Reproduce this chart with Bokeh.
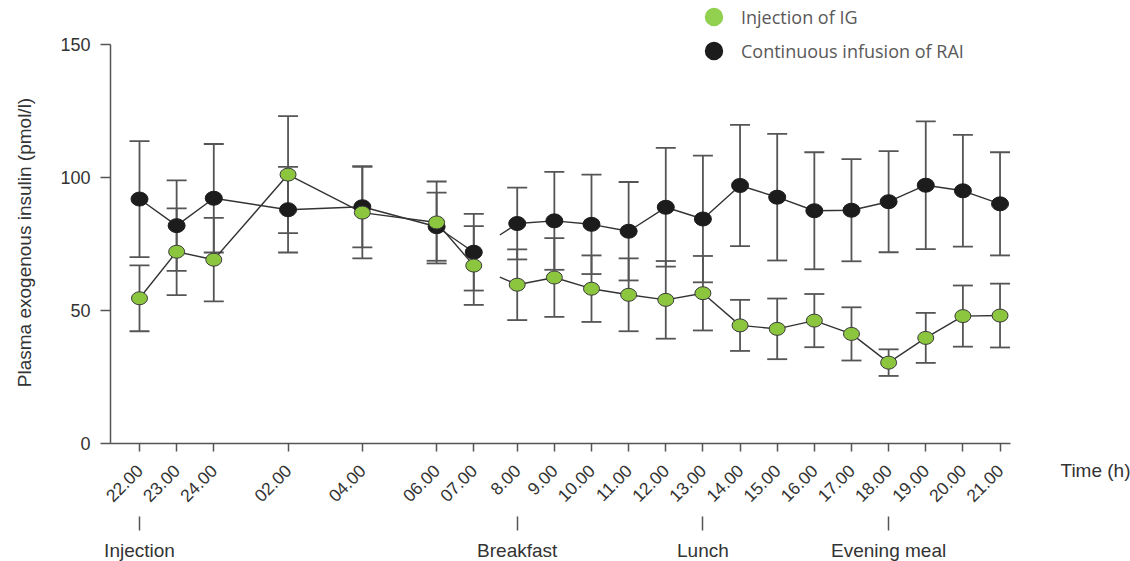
import math
import numpy as np
from bokeh.plotting import figure
from bokeh.models import (ColumnDataSource, Whisker, TeeHead, FixedTicker, LinearAxis,
                          Label, Legend, LegendItem, Range1d)
from bokeh.embed import file_html
from bokeh.resources import INLINE

# Sampling times (clock labels) and hours elapsed since the 22.00 injection
time_labels = ["22.00", "23.00", "24.00", "02.00", "04.00", "06.00", "07.00",
               "8.00", "9.00", "10.00", "11.00", "12.00", "13.00", "14.00", "15.00",
               "16.00", "17.00", "18.00", "19.00", "20.00", "21.00"]
elapsed_h = [0, 1, 2, 4, 6, 8, 9,
             10, 11, 12, 13, 14, 15, 16, 17, 18, 19, 20, 21, 22, 23]

# Injection of IG: mean and error (pmol/l)
ig_mean = [54.6, 72.1, 69.1, 101.1, 86.8, 83.1, 66.9,
           59.7, 62.4, 58.2, 55.9, 54.0, 56.5, 44.4, 43.1, 46.2, 41.2, 30.4, 39.7, 47.9, 48.1]
ig_err = [12.4, 16.3, 15.7, 22.0, 17.2, 15.4, 14.8,
          13.3, 14.8, 12.5, 13.7, 14.6, 14.0, 9.6, 11.4, 10.0, 10.0, 5.0, 9.4, 11.5, 12.0]

# Continuous infusion of RAI: mean and error (pmol/l)
rai_mean = [91.9, 81.9, 92.2, 87.9, 89.0, 81.5, 71.9,
            82.7, 83.7, 82.4, 79.8, 88.8, 84.4, 97.0, 92.6, 87.5, 87.7, 90.9, 97.1, 95.0, 90.1]
rai_err = [21.8, 17.0, 20.4, 16.1, 15.3, 12.8, 14.4,
           13.5, 18.4, 18.7, 18.5, 22.3, 23.8, 22.8, 23.8, 22.0, 19.2, 19.0, 24.0, 21.0, 19.4]

# Meal / injection events (hours since 22.00)
event_names = ["Injection", "Breakfast", "Lunch", "Evening meal"]
event_h = [0, 10, 15, 20]

y_ticks = [0, 50, 100, 150]
Y_MAX = 150

# Axis break between the night and the day part of the time axis
DAY_START = 10
DAY_GAP = 0.17


def to_x(h):
    return round(h + (DAY_GAP if h >= DAY_START else 0.0), 3)


xs = [to_x(h) for h in elapsed_h]
ev_x = [to_x(h) for h in event_h]
n_night = sum(1 for h in elapsed_h if h < DAY_START)

GREEN = "#8cc63f"
BLACK = "#1c1c1c"
AXIS = "#555555"
TEXT = "#333333"
FONT = "Liberation Sans"

# Page geometry: the plotting area fills the whole page and both axes are
# pinned inside it (value axis at the left, time axis at y = 0).
W, H = 1130, 561
X0_PX = 139                              # pixel column of 22.00
YAXIS_PX, XAXIS_END_PX = 110, 1010
Y0_PX, Y150_PX = 443, 44                 # pixel rows of 0 and 150
PX_PER_UNIT = (Y0_PX - Y150_PX) / Y_MAX
PX_PER_HOUR = 37.14
X_START = -X0_PX / PX_PER_HOUR
X_END = (W - X0_PX) / PX_PER_HOUR
Y_AXIS_X = (YAXIS_PX - X0_PX) / PX_PER_HOUR
X_AXIS_END = (XAXIS_END_PX - X0_PX) / PX_PER_HOUR
Y_TOP = Y0_PX / PX_PER_UNIT
Y_BOTTOM = -(H - Y0_PX) / PX_PER_UNIT

p = figure(width=W, height=H, output_backend="svg", toolbar_location=None,
           x_range=Range1d(X_START, X_END), y_range=Range1d(Y_BOTTOM, Y_TOP),
           x_axis_type=None, y_axis_type=None,
           min_border_left=0, min_border_right=0, min_border_top=0, min_border_bottom=0)
p.outline_line_color = None
p.xgrid.visible = False
p.ygrid.visible = False
p.background_fill_color = "white"
p.border_fill_color = "white"

# value axis
yax = LinearAxis(ticker=FixedTicker(ticks=y_ticks), bounds=(0, Y_MAX),
                 fixed_location=Y_AXIS_X)
yax.axis_line_color = AXIS
yax.axis_line_width = 1.5
yax.major_tick_line_color = AXIS
yax.major_tick_line_width = 1.5
yax.major_tick_in = 0
yax.major_tick_out = 10
yax.minor_tick_line_color = None
yax.major_label_standoff = 10
yax.major_label_text_font = FONT
yax.major_label_text_font_size = "18px"
yax.major_label_text_color = TEXT
p.add_layout(yax, "left")

p.add_layout(Label(x=24, y=H - 242, x_units="screen", y_units="screen",
                   text="Plasma exogenous insulin (pmol/l)", angle=math.pi / 2,
                   text_font=FONT, text_font_size="19px", text_color=TEXT,
                   text_align="center", text_baseline="middle"))

# time axis, pinned at y = 0
xax = LinearAxis(ticker=FixedTicker(ticks=xs), fixed_location=0,
                 bounds=(Y_AXIS_X, X_AXIS_END))
xax.major_label_overrides = {x: lab for x, lab in zip(xs, time_labels)}
xax.major_label_orientation = math.pi / 4
xax.axis_line_color = AXIS
xax.axis_line_width = 1.5
xax.major_tick_line_color = AXIS
xax.major_tick_line_width = 1.5
xax.major_tick_in = 0
xax.major_tick_out = 8
xax.minor_tick_line_color = None
xax.major_label_standoff = 16
xax.major_label_text_font = FONT
xax.major_label_text_font_size = "17.5px"
xax.major_label_text_color = TEXT
p.add_layout(xax, "below")

# event marks (injection and meals) below the time labels
eax = LinearAxis(ticker=FixedTicker(ticks=ev_x), fixed_location=0)
eax.major_label_overrides = {x: lab for x, lab in zip(ev_x, event_names)}
eax.axis_line_color = None
eax.major_tick_line_color = AXIS
eax.major_tick_line_width = 1.5
eax.major_tick_in = -73
eax.major_tick_out = 87
eax.minor_tick_line_color = None
eax.major_label_standoff = 9
eax.major_label_text_font = FONT
eax.major_label_text_font_size = "19px"
eax.major_label_text_color = TEXT
p.add_layout(eax, "below")

p.add_layout(Label(x=1060, y=H - 470, x_units="screen", y_units="screen", text="Time (h)",
                   text_font=FONT, text_font_size="19px", text_color=TEXT,
                   text_baseline="middle"))


def series_source(mean, err):
    return ColumnDataSource(dict(
        x=xs, y=mean,
        upper=[m + e for m, e in zip(mean, err)],
        lower=[m - e for m, e in zip(mean, err)]))


src_rai = series_source(rai_mean, rai_err)
src_ig = series_source(ig_mean, ig_err)

for src in (src_rai, src_ig):
    p.add_layout(Whisker(source=src, base="x", upper="upper", lower="lower",
                         line_color=AXIS, line_width=1.8,
                         upper_head=TeeHead(size=20, line_color=AXIS, line_width=1.8),
                         lower_head=TeeHead(size=20, line_color=AXIS, line_width=1.8)))


def broken_line(vals):
    lx = xs[:n_night] + [np.nan] + xs[n_night:]
    ly = list(vals[:n_night]) + [np.nan] + list(vals[n_night:])
    return lx, ly


for vals in (rai_mean, ig_mean):
    lx, ly = broken_line(vals)
    p.line(lx, ly, line_color="#333333", line_width=1.4)
    # short stub of the interrupted 07.00 -> 8.00 connection
    xa, ya = xs[n_night - 1], vals[n_night - 1]
    xb, yb = xs[n_night], vals[n_night]
    t = 0.6
    p.segment(x0=[xa + t * (xb - xa)], y0=[ya + t * (yb - ya)], x1=[xb], y1=[yb],
              line_color="#333333", line_width=1.4)

rai_r = p.ellipse("x", "y", source=src_rai, width=17, height=14,
                  width_units="screen", height_units="screen",
                  fill_color=BLACK, line_color=BLACK, line_width=1)
ig_r = p.ellipse("x", "y", source=src_ig, width=16, height=13,
                 width_units="screen", height_units="screen",
                 fill_color=GREEN, line_color="#3a3a3a", line_width=1)

# legend swatches (not plotted as data points)
leg_ig = p.ellipse(x=[np.nan], y=[np.nan], width=18, height=18,
                   width_units="screen", height_units="screen",
                   fill_color="#92d050", line_color=None)
leg_rai = p.ellipse(x=[np.nan], y=[np.nan], width=18, height=18,
                    width_units="screen", height_units="screen",
                    fill_color=BLACK, line_color=None)

legend = Legend(items=[LegendItem(label="Injection of IG", renderers=[leg_ig]),
                       LegendItem(label="Continuous infusion of RAI", renderers=[leg_rai])],
                location=(702, 498))
legend.label_text_font = "Open Sans"
legend.label_text_font_size = "18px"
legend.label_text_color = "#595959"
legend.glyph_width = 23
legend.glyph_height = 25
legend.label_height = 25
legend.spacing = 9
legend.padding = 0
legend.margin = 0
legend.label_standoff = 16
legend.border_line_color = None
legend.background_fill_alpha = 0
p.add_layout(legend, "center")

open("out.html", "w").write(file_html(p, INLINE))
